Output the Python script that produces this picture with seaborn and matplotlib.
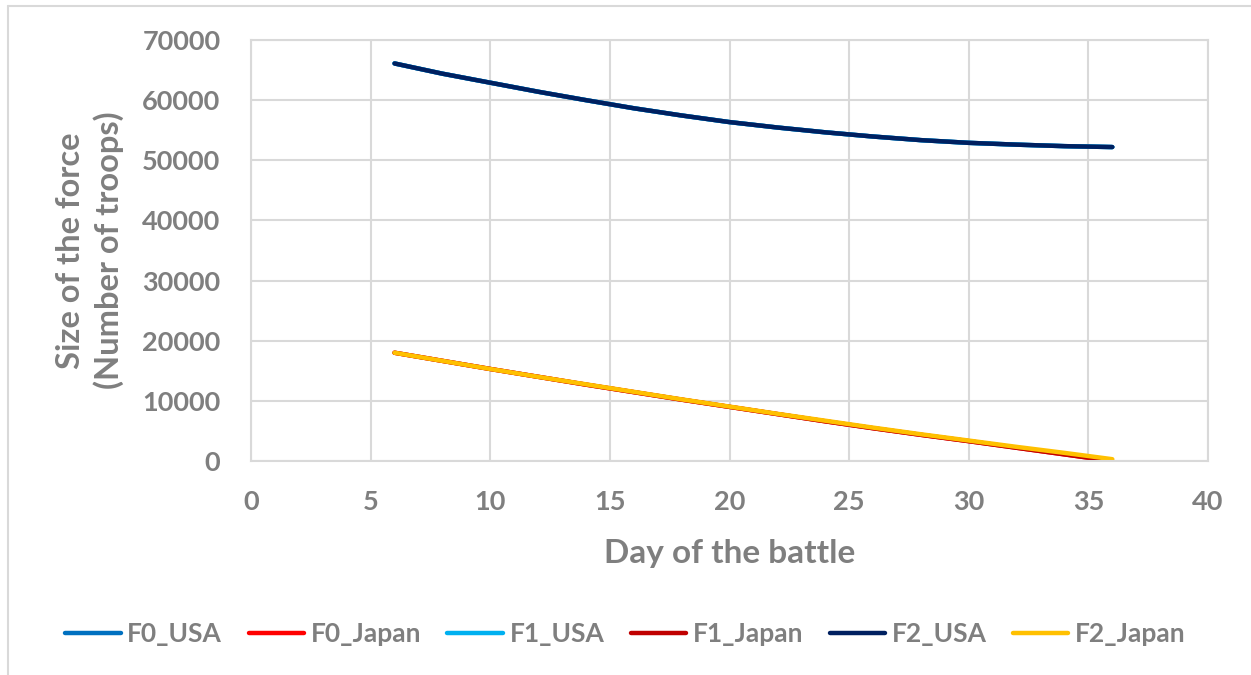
import matplotlib
matplotlib.use("Agg")
import matplotlib.pyplot as plt
from matplotlib.lines import Line2D
import seaborn as sns
import pandas as pd

days = [6, 8, 10, 12, 14, 16, 18, 20, 22, 24, 26, 28, 30, 32, 34, 36]
f0_usa = [66100, 64400, 62900, 61400, 60000, 58650, 57450, 56350, 55450, 54650, 53950, 53350, 52900, 52600, 52350, 52200]
f0_japan = [18000, 16650, 15300, 14000, 12700, 11450, 10200, 9000, 7800, 6600, 5450, 4350, 3300, 2200, 1100, 0]
f1_usa = [66100, 64400, 62900, 61400, 60000, 58650, 57450, 56350, 55450, 54650, 53950, 53350, 52900, 52600, 52350, 52200]
f1_japan = [18000, 16650, 15300, 14000, 12700, 11450, 10200, 9000, 7800, 6600, 5450, 4350, 3300, 2200, 1100, 0]
f2_usa = [66100, 64400, 62900, 61400, 60000, 58650, 57450, 56350, 55450, 54650, 53950, 53350, 52900, 52600, 52350, 52200]
f2_japan = [18000, 16650, 15300, 14000, 12750, 11500, 10250, 9050, 7850, 6700, 5550, 4450, 3400, 2350, 1350, 300]

series_names = ["F0_USA", "F0_Japan", "F1_USA", "F1_Japan", "F2_USA", "F2_Japan"]
series_values = [f0_usa, f0_japan, f1_usa, f1_japan, f2_usa, f2_japan]
colors = ["#0070C0", "#FF0000", "#00B0F0", "#C00000", "#002060", "#FFC000"]

x_ticks = [0, 5, 10, 15, 20, 25, 30, 35, 40]
y_ticks = [0, 10000, 20000, 30000, 40000, 50000, 60000, 70000]

rows = []
for name, vals in zip(series_names, series_values):
    for d, v in zip(days, vals):
        rows.append({"day": d, "value": v, "series": name})
df = pd.DataFrame(rows)

sns.set_theme(style="white")
plt.rcParams['font.family'] = ['Lato', 'DejaVu Sans']
plt.rcParams['font.weight'] = 'bold'

text_color = "#7F7F7F"
grid_color = "#D9D9D9"

fig = plt.figure(figsize=(12.51, 6.75), dpi=100)
ax = fig.add_axes([251 / 1251, 1 - 461 / 675, (1208 - 251) / 1251, (461 - 40) / 675])

palette = dict(zip(series_names, colors))
sns.lineplot(data=df, x="day", y="value", hue="series", hue_order=series_names,
             palette=palette, linewidth=3.2, ax=ax, legend=False, sort=False,
             solid_capstyle="round")

ax.set_xlim(0, 40)
ax.set_ylim(0, 70000)
ax.set_xticks(x_ticks)
ax.set_yticks(y_ticks)
ax.set_xticklabels([str(t) for t in x_ticks])
ax.set_yticklabels([str(t) for t in y_ticks])
ax.grid(True, color=grid_color, linewidth=1.5)
ax.set_axisbelow(True)
for s in ax.spines.values():
    s.set_color(grid_color)
    s.set_linewidth(1.5)
ax.tick_params(axis="both", length=0, labelsize=19.5, labelcolor=text_color)
ax.tick_params(axis="x", pad=21)
ax.tick_params(axis="y", pad=22)
for lbl in ax.get_xticklabels() + ax.get_yticklabels():
    lbl.set_fontweight("bold")

ax.set_xlabel("Day of the battle", fontsize=24, fontweight="bold", color=text_color)
ax.xaxis.set_label_coords(0.5, -(553 - 461) / 421)
ax.xaxis.label.set_verticalalignment("center")
ax.set_ylabel("Size of the force\n(Number of troops)", fontsize=23.5, fontweight="bold",
              color=text_color, linespacing=1.32)
ax.yaxis.set_label_coords((90 - 251) / 957, 0.5)
ax.yaxis.label.set_verticalalignment("center")

handles = [Line2D([0], [0], color=c, linewidth=3.2, solid_capstyle="round") for c in colors]
leg = fig.legend(handles, series_names, loc="center", bbox_to_anchor=(0.5, 1 - 634 / 675),
                 ncol=6, frameon=False, fontsize=19, handlelength=2.1, handletextpad=0.25,
                 columnspacing=1.0)
for t in leg.get_texts():
    t.set_color(text_color)
    t.set_fontweight("bold")

# outer chart frame
fig.add_artist(Line2D([8 / 1251, 8 / 1251], [0, 1 - 6 / 675], transform=fig.transFigure,
                      color=grid_color, linewidth=1.5))
fig.add_artist(Line2D([8 / 1251, 1], [1 - 6 / 675, 1 - 6 / 675], transform=fig.transFigure,
                      color=grid_color, linewidth=1.5))

fig.savefig("out.png", dpi=100)
